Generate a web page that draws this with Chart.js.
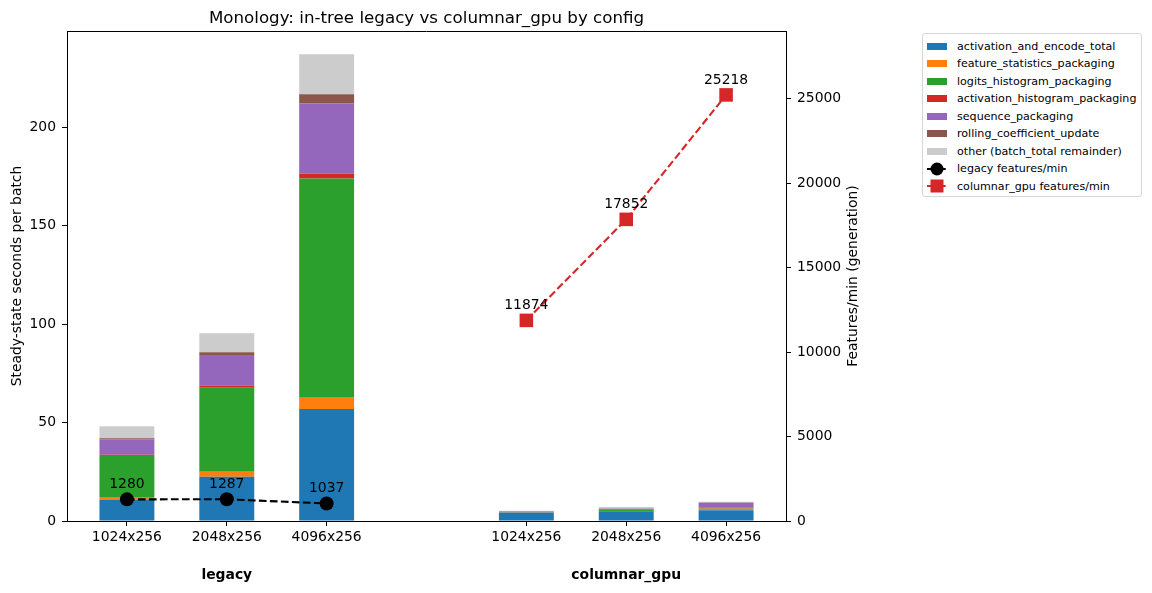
<!DOCTYPE html>
<html>
<head>
<meta charset="utf-8">
<script src="https://cdn.jsdelivr.net/npm/chart.js@4.4.1/dist/chart.umd.min.js"></script>
<style>
  html, body { margin: 0; padding: 0; background: #fff; }
  #wrap { position: relative; width: 1152px; height: 593px; }
  #legend {
    position: absolute; left: 922px; top: 33px; width: 220px; box-sizing: border-box;
    border: 1px solid #d6d6d6; border-radius: 3px; padding: 3.25px 0 1.25px 0;
    font: 11.1px "DejaVu Sans", sans-serif; color: #000; background: #fff;
  }
  .row { display: flex; align-items: center; height: 17.5px; white-space: nowrap; }
  .key { width: 20px; height: 14px; margin: 0 10px 0 4px; display: flex; align-items: center; }
  .patch { width: 20px; height: 7px; }
</style>
</head>
<body>
<div id="wrap">
  <canvas id="chart"></canvas>
  <div id="legend"></div>
</div>
<script>
const configs = ['1024x256', '2048x256', '4096x256'];
const groups = ['legacy', 'columnar_gpu'];
const componentNames = [
    'activation_and_encode_total', 'feature_statistics_packaging', 'logits_histogram_packaging',
    'activation_histogram_packaging', 'sequence_packaging', 'rolling_coefficient_update',
    'other (batch_total remainder)'
];
const componentColors = ['#1f77b4', '#ff7f0e', '#2ca02c', '#d62728', '#9467bd', '#8c564b', '#cccccc'];

// seconds per batch: legacy 1024/2048/4096, then columnar_gpu 1024/2048/4096
const activationEncode = [10.7, 22.5, 56.9, 4.2, 4.9, 5.4];
const featureStats     = [1.5, 2.5, 5.7, 0.05, 0.1, 0.8];
const logitsHist       = [21.3, 42.7, 111.4, 0.05, 0.6, 0.1];
const activationHist   = [0.2, 1.0, 2.6, 0.1, 0.1, 0.45];
const sequencePack     = [7.8, 15.7, 35.6, 0.45, 0.5, 2.5];
const rollingCoef      = [0.5, 1.4, 4.6, 0.05, 0.1, 0.1];
const otherRemainder   = [6.2, 9.6, 20.3, 0.3, 0.8, 0.4];

const legacyFeaturesPerMin = [1280, 1287, 1037];
const columnarFeaturesPerMin = [11874, 17852, 25218];

const leftTicks = [0, 50, 100, 150, 200];
const rightTicks = [0, 5000, 10000, 15000, 20000, 25000];

const componentValues = [activationEncode, featureStats, logitsHist, activationHist, sequencePack, rollingCoef, otherRemainder];

// bar positions: one slot gap between the two groups
const xPos = groups.flatMap((g, gi) => configs.map((c, ci) => gi * (configs.length + 1) + ci));
const totals = xPos.map((x, i) => componentValues.reduce((s, arr) => s + arr[i], 0));
const yMax = Math.max(...totals) * 1.05;
const y1Max = Math.max(...legacyFeaturesPerMin, ...columnarFeaturesPerMin) * 1.15;

const FONT = '"DejaVu Sans", sans-serif';
const TXT = 13.9;

const barSets = componentNames.map((name, k) => ({
    type: 'bar', label: name, order: 1, yAxisID: 'y',
    data: xPos.map((x, i) => ({ x: x, y: componentValues[k][i] })),
    backgroundColor: componentColors[k], borderWidth: 0,
    barPercentage: 0.55, categoryPercentage: 1.0
}));

const lineSets = [
    { label: 'legacy features/min', values: legacyFeaturesPerMin, xs: xPos.slice(0, 3), color: '#000000', style: 'circle', r: 7 },
    { label: 'columnar_gpu features/min', values: columnarFeaturesPerMin, xs: xPos.slice(3), color: '#d62728', style: 'rect', r: 9.6 }
].map(s => ({
    type: 'line', label: s.label, order: 0, yAxisID: 'y1',
    data: s.values.map((v, i) => ({ x: s.xs[i], y: v })),
    borderColor: s.color, backgroundColor: s.color, borderWidth: 2.1, borderDash: [7.7, 3.3],
    pointStyle: s.style, pointRadius: s.r, pointBorderWidth: 0, pointBackgroundColor: s.color,
    tension: 0, clip: false
}));

const decorPlugin = {
    id: 'decor',
    afterDraw(chart) {
        const { ctx, chartArea: a, scales } = chart;
        ctx.save();
        // top spine
        ctx.strokeStyle = '#000';
        ctx.lineWidth = 1;
        ctx.beginPath();
        ctx.moveTo(a.left, a.top + 0.5);
        ctx.lineTo(a.right, a.top + 0.5);
        ctx.stroke();
        // title
        ctx.fillStyle = '#000';
        ctx.textAlign = 'center';
        ctx.textBaseline = 'alphabetic';
        ctx.font = `16.7px ${FONT}`;
        ctx.fillText('Monology: in-tree legacy vs columnar_gpu by config', (a.left + a.right) / 2, 23);
        // right axis title, reading bottom to top
        ctx.font = `${TXT}px ${FONT}`;
        ctx.save();
        ctx.translate(853, (a.top + a.bottom) / 2);
        ctx.rotate(-Math.PI / 2);
        ctx.textBaseline = 'middle';
        ctx.fillText('Features/min (generation)', 0, 0);
        ctx.restore();
        // group labels
        ctx.font = `bold ${TXT}px ${FONT}`;
        groups.forEach((g, gi) => {
            const mid = xPos[gi * configs.length + Math.floor(configs.length / 2)];
            ctx.fillText(g, scales.x.getPixelForValue(mid), 579);
        });
        // value labels above line points
        ctx.font = `${TXT}px ${FONT}`;
        chart.data.datasets.forEach((ds, di) => {
            if (ds.type !== 'line') return;
            chart.getDatasetMeta(di).data.forEach((pt, i) => {
                ctx.fillText(String(ds.data[i].y), pt.x, pt.y - 11);
            });
        });
        ctx.restore();
    }
};

const axisBase = {
    grid: { drawOnChartArea: false, drawTicks: true, tickLength: 5, tickColor: '#000', tickWidth: 1, offset: false },
    border: { display: true, color: '#000', width: 1 },
    ticks: { color: '#000', font: { family: FONT, size: TXT }, padding: 6 }
};

new Chart(document.getElementById('chart'), {
    data: { datasets: [...barSets, ...lineSets] },
    plugins: [decorPlugin],
    options: {
        responsive: true, maintainAspectRatio: false, animation: false,
        layout: { padding: { left: 0, right: 291, top: 31, bottom: 0 } },
        plugins: { legend: { display: false }, tooltip: { enabled: false } },
        scales: {
            x: {
                ...axisBase, type: 'linear', stacked: true, offset: false, bounds: 'data',
                min: xPos[0] - 0.6, max: xPos[xPos.length - 1] + 0.6,
                ticks: { ...axisBase.ticks, padding: 3, maxRotation: 0, autoSkip: false,
                    callback: v => { const i = xPos.indexOf(v); return i < 0 ? '' : configs[i % configs.length]; } },
                afterBuildTicks: s => { s.ticks = xPos.map(v => ({ value: v })); },
                afterFit: s => { s.height = 72; }
            },
            y: {
                ...axisBase, type: 'linear', position: 'left', stacked: true, min: 0, max: yMax,
                ticks: { ...axisBase.ticks, includeBounds: false },
                afterBuildTicks: s => { s.ticks = leftTicks.map(v => ({ value: v })); },
                title: { display: true, text: 'Steady-state seconds per batch', color: '#000',
                    font: { family: FONT, size: TXT }, padding: { top: 9, bottom: 0 } },
                afterFit: s => { s.width = 67; }
            },
            y1: {
                ...axisBase, type: 'linear', position: 'right', min: 0, max: y1Max,
                ticks: { ...axisBase.ticks, includeBounds: false, callback: v => String(v) },
                afterBuildTicks: s => { s.ticks = rightTicks.map(v => ({ value: v })); },
                afterFit: s => { s.width = 75; }
            }
        }
    }
});

// legend
const legend = document.getElementById('legend');
componentNames.forEach((name, k) => {
    legend.insertAdjacentHTML('beforeend',
        `<div class="row"><span class="key"><span class="patch" style="background:${componentColors[k]}"></span></span><span>${name}</span></div>`);
});
lineSets.forEach(ds => {
    const c = ds.borderColor;
    const marker = ds.pointStyle === 'circle'
        ? `<circle cx="10" cy="7" r="6.5" fill="${c}"/>`
        : `<rect x="3.5" y="0.5" width="13" height="13" fill="${c}"/>`;
    legend.insertAdjacentHTML('beforeend',
        `<div class="row"><span class="key"><svg width="20" height="14"><line x1="0" y1="7" x2="20" y2="7" stroke="${c}" stroke-width="2" stroke-dasharray="7.7 3.3"/>${marker}</svg></span><span>${ds.label}</span></div>`);
});
</script>
</body>
</html>
